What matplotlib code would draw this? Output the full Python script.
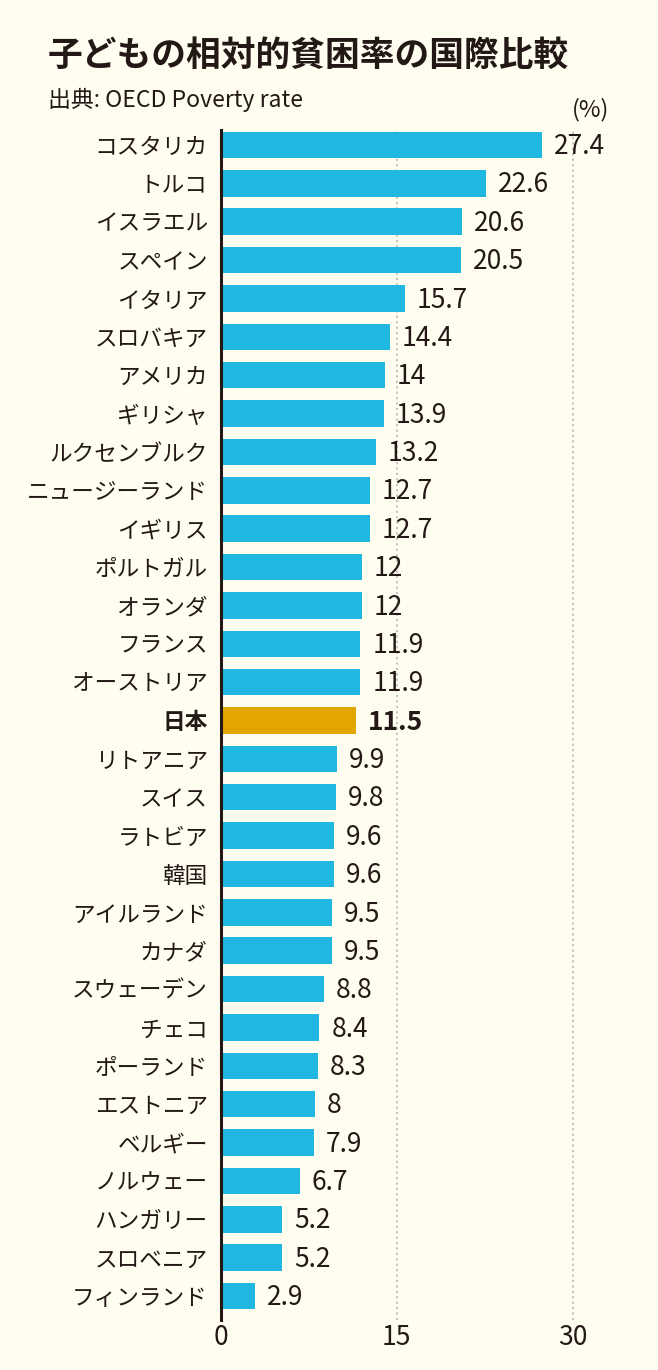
import matplotlib
matplotlib.use("Agg")
import matplotlib.pyplot as plt

plt.rcParams['font.family'] = ['Noto Sans CJK JP', 'DejaVu Sans']

countries = ["コスタリカ", "トルコ", "イスラエル", "スペイン", "イタリア", "スロバキア",
             "アメリカ", "ギリシャ", "ルクセンブルク", "ニュージーランド", "イギリス",
             "ポルトガル", "オランダ", "フランス", "オーストリア", "日本", "リトアニア",
             "スイス", "ラトビア", "韓国", "アイルランド", "カナダ", "スウェーデン",
             "チェコ", "ポーランド", "エストニア", "ベルギー", "ノルウェー", "ハンガリー",
             "スロベニア", "フィンランド"]
rates = [27.4, 22.6, 20.6, 20.5, 15.7, 14.4, 14, 13.9, 13.2, 12.7, 12.7, 12, 12,
         11.9, 11.9, 11.5, 9.9, 9.8, 9.6, 9.6, 9.5, 9.5, 8.8, 8.4, 8.3, 8, 7.9,
         6.7, 5.2, 5.2, 2.9]
value_labels = ["27.4", "22.6", "20.6", "20.5", "15.7", "14.4", "14", "13.9", "13.2",
                "12.7", "12.7", "12", "12", "11.9", "11.9", "11.5", "9.9", "9.8", "9.6",
                "9.6", "9.5", "9.5", "8.8", "8.4", "8.3", "8", "7.9", "6.7", "5.2",
                "5.2", "2.9"]
highlight = "日本"
xticks = [0, 15, 30]
title = "子どもの相対的貧困率の国際比較"
source = "出典: OECD Poverty rate"
unit = "(%)"

BG = "#FFFDF0"
BLUE = "#20B8E0"
GOLD = "#E3A600"
INK = "#231815"

W, H = 658, 1370
fig = plt.figure(figsize=(W / 100, H / 100), dpi=100, facecolor=BG)

left_px, top_px, bottom_px = 221, 130, 1320
px_per_unit = 11.72
xmax = 36
ax_w = xmax * px_per_unit
ax = fig.add_axes([left_px / W, (H - bottom_px) / H, ax_w / W, (bottom_px - top_px) / H])
ax.set_facecolor(BG)

n = len(countries)
pos = list(range(n))
colors = [GOLD if c == highlight else BLUE for c in countries]
ax.barh(pos, rates, height=0.69, color=colors, zorder=2)
ax.set_ylim(n - 1 + 0.625, -0.39)
ax.set_xlim(0, xmax)

for x in xticks[1:]:
    ax.axvline(x, color="#BDBDBD", lw=1.3, ls=(0, (1.2, 1.8)), zorder=1)

ax.set_yticks(pos)
ax.set_yticklabels(countries, fontsize=16.3, color=INK)
for lbl, c in zip(ax.get_yticklabels(), countries):
    if c == highlight:
        lbl.set_fontweight("bold")
ax.tick_params(axis="y", length=0, pad=9.5)

ax.set_xticks(xticks)
ax.set_xticklabels([str(t) for t in xticks], fontsize=19, color=INK)
ax.tick_params(axis="x", length=0, pad=3)

for s in ["top", "right", "bottom"]:
    ax.spines[s].set_visible(False)
ax.spines["left"].set_color(INK)
ax.spines["left"].set_linewidth(2.2)
ax.spines["left"].set_zorder(3)

for p, v, t, c in zip(pos, rates, value_labels, countries):
    ax.annotate(t, xy=(v, p), xytext=(8.6, -1.2), textcoords="offset points",
                ha="left", va="center", fontsize=19, color=INK,
                fontweight="bold" if c == highlight else "normal")

fig.text(48 / W, 1 - 55 / H, title, fontsize=25, fontweight="bold", color=INK,
         ha="left", va="center")
fig.text(48 / W, 1 - 100 / H, source, fontsize=16.5, color=INK, ha="left", va="center")
fig.text(591 / W, 1 - 110 / H, unit, fontsize=17, color=INK, ha="center", va="center")

fig.savefig("out.png", dpi=100, facecolor=BG)
